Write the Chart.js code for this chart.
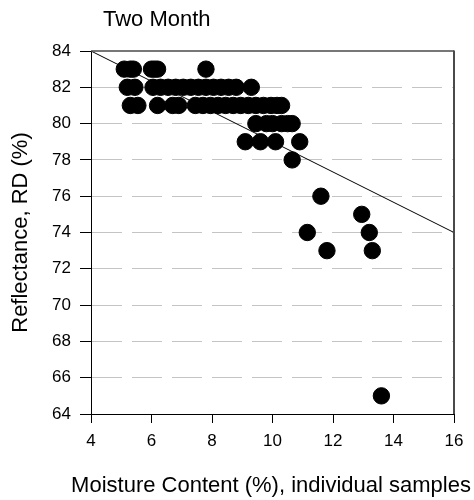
<!DOCTYPE html>
<html lang="en">
<head>
    <meta charset="utf-8">
    <title>Two Month</title>
    <script src="https://cdn.jsdelivr.net/npm/chart.js@4.4.1/dist/chart.umd.min.js"></script>
    <style>
        body { margin: 0; background: #fff; }
    </style>
</head>
<body>
<canvas id="myChart" width="474" height="500"></canvas>
<script>
// samples read per reflectance level
var moisture = [
    5.1, 5.3, 5.4, 6.0, 6.1, 6.2, 7.8,
    5.2, 5.45, 6.05, 6.3, 6.55, 6.8, 7.05, 7.3, 7.55, 7.8, 8.05, 8.3, 8.55, 8.8, 9.3,
    5.3, 5.55, 6.2, 6.7, 6.9, 7.45, 7.7, 7.95, 8.2, 8.45, 8.7, 8.95, 9.2, 9.45, 9.7, 9.95, 10.15, 10.3,
    9.45, 9.8, 10.0, 10.3, 10.5, 10.65,
    9.1, 9.6, 10.1, 10.9,
    10.65,
    11.6,
    12.95,
    11.15, 13.2,
    11.8, 13.3,
    13.6
];
var reflectance = [
    83, 83, 83, 83, 83, 83, 83,
    82, 82, 82, 82, 82, 82, 82, 82, 82, 82, 82, 82, 82, 82, 82,
    81, 81, 81, 81, 81, 81, 81, 81, 81, 81, 81, 81, 81, 81, 81, 81, 81, 81,
    80, 80, 80, 80, 80, 80,
    79, 79, 79, 79,
    78,
    76,
    75,
    74, 74,
    73, 73,
    65
];
// fitted line end points
var fitX = [4, 16];
var fitY = [84, 74];

var points = moisture.map(function (m, i) { return { x: m, y: reflectance[i] }; });
var fitLine = fitX.map(function (m, i) { return { x: m, y: fitY[i] }; });

var font = "'Liberation Sans', Arial, sans-serif";

// titles and box frame; the x title is drawn here so it is not squeezed to the axis width
var framePlugin = {
    id: 'frame',
    afterDraw: function (chart) {
        var ctx = chart.ctx, a = chart.chartArea;
        ctx.save();
        ctx.strokeStyle = '#4a4a4a';
        ctx.lineWidth = 1.3;
        ctx.beginPath();
        ctx.moveTo(a.left, a.top);
        ctx.lineTo(a.right, a.top);
        ctx.stroke();
        ctx.lineWidth = 2;
        ctx.beginPath();
        ctx.moveTo(a.right, a.top - 0.6);
        ctx.lineTo(a.right, a.bottom);
        ctx.stroke();
        ctx.fillStyle = '#000';
        ctx.font = '22px ' + font;
        ctx.textBaseline = 'alphabetic';
        ctx.textAlign = 'left';
        ctx.fillText('Two Month', a.left + 12, 26);
        ctx.textAlign = 'center';
        ctx.fillText('Moisture Content (%), individual samples', (a.left + a.right) / 2 - 1.5, 492);
        ctx.restore();
    }
};

var ctx = document.getElementById("myChart").getContext("2d");

var myChart = new Chart(ctx, {
    type: 'scatter',
    data: {
        datasets: [{
            label: 'Samples',
            data: points,
            backgroundColor: '#000',
            borderColor: '#000',
            pointRadius: 8.2,
            pointHoverRadius: 8.2,
            order: 1
        },
        {
            type: 'line',
            label: 'Fit',
            data: fitLine,
            borderColor: '#000',
            borderWidth: 1,
            pointRadius: 0,
            fill: false,
            order: 2
        }]
    },
    options: {
        responsive: false,
        animation: false,
        layout: { padding: { top: 51, right: 20, left: 0, bottom: 0 } },
        plugins: {
            legend: { display: false },
            tooltip: { enabled: false }
        },
        scales: {
            x: {
                type: 'linear',
                min: 4,
                max: 16,
                afterFit: function (scale) { scale.height = 86; },
                ticks: {
                    stepSize: 2,
                    color: '#000',
                    padding: 8,
                    maxRotation: 0,
                    font: { family: font, size: 17 }
                },
                grid: {
                    drawOnChartArea: false,
                    tickLength: 9,
                    tickColor: '#000'
                },
                border: { color: '#000', width: 1 },
                title: { display: false }
            },
            y: {
                min: 64,
                max: 84,
                afterFit: function (scale) { scale.width = 91; },
                ticks: {
                    stepSize: 2,
                    color: '#000',
                    padding: 9,
                    font: { family: font, size: 17 }
                },
                grid: {
                    color: function (c) {
                        var v = c.tick && c.tick.value;
                        return (v === 64 || v === 84) ? 'rgba(0,0,0,0)' : '#c4c4c4';
                    },
                    tickLength: 11,
                    tickColor: '#000',
                    tickBorderDash: []
                },
                border: { color: '#000', width: 1, dash: [30, 10] },
                title: {
                    display: true,
                    text: 'Reflectance, RD (%)',
                    color: '#000',
                    padding: { top: 8, bottom: 0 },
                    font: { family: font, size: 22 }
                }
            }
        }
    },
    plugins: [framePlugin]
});
</script>
</body>
</html>
